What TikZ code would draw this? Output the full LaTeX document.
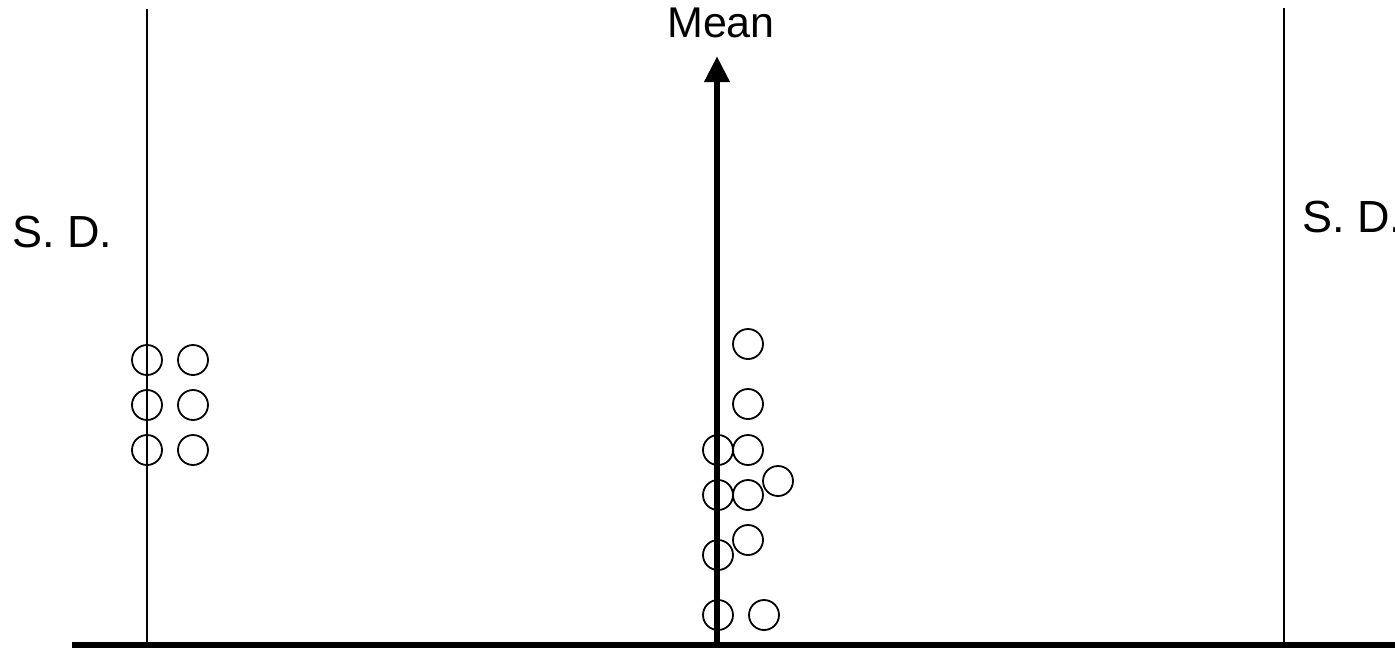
\documentclass[tikz,border=0pt]{standalone}
\usepackage{fontspec}
\setmainfont{Liberation Sans}
\usetikzlibrary{arrows.meta}
\begin{document}
\begin{tikzpicture}[x=1pt,y=-1pt,
  dot/.style={draw=black,circle,line width=1.8pt,minimum size=30pt,inner sep=0pt},
  lbl/.style={inner sep=0pt,font=\fontsize{43}{50}\selectfont},
  sdlbl/.style={inner sep=0pt,font=\fontsize{45}{52}\selectfont},
  thin/.style={line width=2.4pt},
  thick/.style={line width=6.5pt}]
\useasboundingbox (0,0) rectangle (1395,649);
\fill[white] (0,0) rectangle (1395,649);
\clip (0,0) rectangle (1395,649);
% coordinates
\coordinate (Ltop) at (147,9);
\coordinate (Lbot) at (147,643);
\coordinate (Rtop) at (1284,8);
\coordinate (Rbot) at (1284,643);
\coordinate (Abot) at (717,643);
\coordinate (Atop) at (717,56);
\coordinate (Bl) at (72,645);
\coordinate (Br) at (1395,645);
% labels
\node[lbl,anchor=base] (mean) at (721,37) {Mean};
\node[sdlbl,anchor=base west] (sdl) at (12,247) {S. D.};
\node[sdlbl,anchor=base west] (sdr) at (1302,232) {S. D.};
% lines
\draw[thin] (Ltop) -- (Lbot);
\draw[thin] (Rtop) -- (Rbot);
\draw[thick,-{Triangle[width=24pt,length=26pt]}] (Abot) -- (Atop);
\draw[line width=6pt] (Bl) -- (Br);
% left cluster
\node[dot] (l1) at (147,360) {};
\node[dot] (l2) at (147,405) {};
\node[dot] (l3) at (147,450) {};
\node[dot] (l4) at (193,360) {};
\node[dot] (l5) at (193,405) {};
\node[dot] (l6) at (193,450) {};
% centre cluster
\node[dot] (c1) at (748,344) {};
\node[dot] (c2) at (748,404) {};
\node[dot] (c3) at (718,450) {};
\node[dot] (c4) at (748,450) {};
\node[dot] (c5) at (778,481) {};
\node[dot] (c6) at (718,495) {};
\node[dot] (c7) at (748,495) {};
\node[dot] (c8) at (748,540) {};
\node[dot] (c9) at (718,555) {};
\node[dot] (c10) at (718,615) {};
\node[dot] (c11) at (764,615) {};
\end{tikzpicture}
\end{document}
